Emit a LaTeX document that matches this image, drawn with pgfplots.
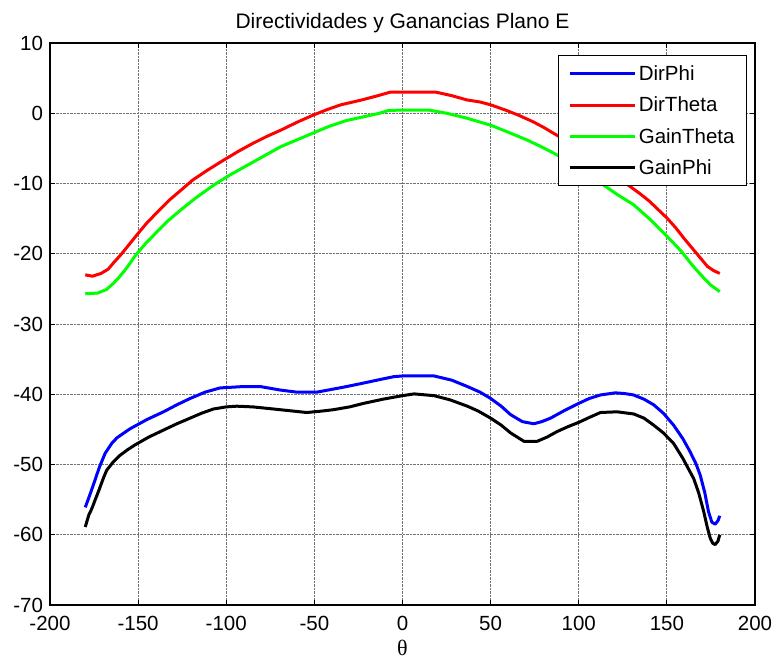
\documentclass[border=0pt]{standalone}
\usepackage{fontspec}
\setmainfont{Liberation Sans}
\newfontfamily\seriffont{Liberation Serif}
\usepackage{pgfplots}
\pgfplotsset{compat=1.18}
\definecolor{mblue}{RGB}{0,0,255}
\definecolor{mred}{RGB}{255,0,0}
\definecolor{mgreen}{RGB}{0,255,0}
\begin{document}
\begin{tikzpicture}
\begin{axis}[
  width=705pt, height=562pt, scale only axis,
  xmin=-200, xmax=200, ymin=-70, ymax=10,
  xtick distance=50, ytick distance=10,
  grid=major,
  grid style={densely dotted, black!55, line width=0.8pt},
  tick align=inside, major tick length=5pt,
  tick style={black, line width=0.8pt},
  axis line style={line width=1.3pt},
  /pgf/number format/assume math mode=true,
  ticklabel style={font=\fontsize{20.5}{23}\selectfont},
  xticklabel style={yshift=-7.5pt},
  yticklabel style={xshift=-3.5pt},
  title={Directividades y Ganancias Plano E},
  title style={font=\fontsize{21}{24}\selectfont, anchor=base, at={(0.5,1)}, yshift=8.5pt},
  xlabel={\seriffont θ},
  xlabel style={font=\fontsize{22}{24}\selectfont, anchor=base, at={(0.5,0)}, yshift=-50pt},
  legend image code/.code={\draw[#1] (0pt,0pt) -- (65pt,0pt);},
  legend cell align=left,
  legend style={at={(0.9887,0.9786)}, anchor=north east, draw=black, line width=1pt,
    font=\fontsize{20.5}{23}\selectfont, row sep=11pt, inner xsep=10pt, inner ysep=8pt,
    nodes={inner sep=2pt}},
  every axis plot/.append style={line width=3pt, line join=round},
]
\addplot[mblue] coordinates {
(-180,-56.1) (-177.5,-54.4) (-175.4,-52.9) (-172,-50.4) (-168.7,-48.4) (-165,-47.0) (-162,-46.2) (-158,-45.5) (-154.5,-44.9)
(-145,-43.6) (-135.6,-42.5) (-128,-41.5) (-120.5,-40.6) (-112,-39.7)
(-103.5,-39.1) (-90,-38.9) (-80.8,-38.9) (-69.4,-39.4) (-60,-39.7) (-48.6,-39.7) (-40,-39.3)
(-31.6,-38.9) (-22,-38.4) (-12.7,-37.9) (-5,-37.5) (0,-37.4) (18,-37.4) (28,-38.0) (36.8,-38.9) (44,-39.7) (50,-40.6)
(56,-41.7) (61.3,-42.9) (68,-43.9)
(74.5,-44.2) (79,-43.9) (84,-43.4) (92,-42.3) (100,-41.3) (106,-40.6) (112.3,-40.1) (120.8,-39.8) (126,-39.9) (131.1,-40.1) (137,-40.7) (142.5,-41.5)
(148,-42.7) (153.8,-44.4) (159,-46.3) (163.2,-48.2) (166.5,-49.9) (168.9,-51.5) (171.5,-54.0) (173.6,-56.7) (175.5,-58.2) (177.4,-58.5) (179,-58.0) (180,-57.3)
};
\addlegendentry{DirPhi}
\addplot[mred] coordinates {
(-180,-23.0) (-176,-23.2) (-171,-22.8) (-167,-22.2) (-164,-21.3) (-160,-20.2) (-154.5,-18.5) (-150,-17.1) (-145,-15.6)
(-138,-13.8) (-132,-12.3) (-125,-10.8) (-119,-9.5) (-110,-8.0) (-101,-6.6) (-93,-5.4) (-85,-4.3) (-77,-3.3) (-69,-2.4) (-60,-1.3) (-51,-0.3) (-43,0.5) (-35,1.2) (-23,1.9)
(-14,2.5) (-7,3.0) (0,3.0) (10,3.0) (19,3.0) (28,2.5) (36.5,1.9) (44,1.6) (50,1.2) (59,0.4) (66,-0.3) (74,-1.2)
(80,-2.0) (86,-2.9) (93,-3.9) (100,-4.9) (108,-6.3) (115,-7.7) (122,-9.1) (129,-10.4) (135,-11.5) (140,-12.5) (145,-13.7) (150,-14.9) (155,-16.3) (160,-17.9) (165,-19.4) (170,-20.9) (173,-21.8) (176.5,-22.4) (180,-22.8)
};
\addlegendentry{DirTheta}
\addplot[mgreen] coordinates {
(-180,-25.7) (-173,-25.6) (-168,-25.1) (-164,-24.2) (-161,-23.4) (-158,-22.5) (-155,-21.5) (-152,-20.4) (-146,-18.6) (-139,-16.8)
(-133,-15.3) (-126,-13.8) (-117,-12.0) (-107,-10.2) (-98,-8.8) (-88,-7.4) (-78,-6.0) (-69,-4.75) (-60,-3.8) (-51,-2.85) (-42,-1.9) (-32,-1.05) (-22,-0.5) (-13,0.0) (-8,0.4)
(0,0.45) (15,0.45) (25,0.0) (36.5,-0.7) (50,-1.7) (60,-2.7) (70.6,-3.8) (79,-4.8) (86.7,-5.8) (93,-6.7) (100,-7.7) (107,-8.9) (114,-10.2)
(122,-11.6) (131,-13.0) (140,-15.0) (150,-17.5) (158,-19.6) (165,-21.8) (170,-23.2) (174.6,-24.4) (180,-25.4)
};
\addlegendentry{GainTheta}
\addplot[black] coordinates {
(-180,-58.9) (-178,-57.2) (-176.3,-56.3) (-174,-54.8) (-172,-53.5) (-169.5,-51.8) (-167.8,-50.8) (-164,-49.6) (-160.3,-48.7) (-156,-47.9) (-151.7,-47.2) (-144,-46.1) (-135.6,-45.1)
(-128,-44.2) (-120.5,-43.4) (-114,-42.7) (-107.3,-42.1) (-100,-41.8) (-94,-41.7) (-85,-41.8) (-77,-42.0) (-65.6,-42.3) (-54.3,-42.6) (-46,-42.4) (-39.2,-42.2)
(-30,-41.8) (-22.1,-41.3) (-11,-40.7) (0,-40.2) (6.6,-39.95) (17.9,-40.2) (27,-40.8) (36.8,-41.7) (43,-42.4) (50,-43.4) (56,-44.4) (61.3,-45.5) (68.9,-46.7)
(76.4,-46.7) (82,-46.1) (87.8,-45.3) (94,-44.6) (100,-44.0) (106,-43.3) (112.3,-42.6) (121.7,-42.5) (131.1,-42.8) (137,-43.4) (142.5,-44.4)
(148,-45.5) (153.8,-47.0) (159,-49.1) (165.2,-52.0) (168,-54.0) (170.9,-56.7) (172.8,-58.8) (174.6,-60.5) (176,-61.2) (177.4,-61.4) (179,-60.9) (180,-60.0)
};
\addlegendentry{GainPhi}
\end{axis}
\path ([shift={(-50pt,-54pt)}]current axis.south west) rectangle ([shift={(21pt,43pt)}]current axis.north east);
\end{tikzpicture}
\end{document}
